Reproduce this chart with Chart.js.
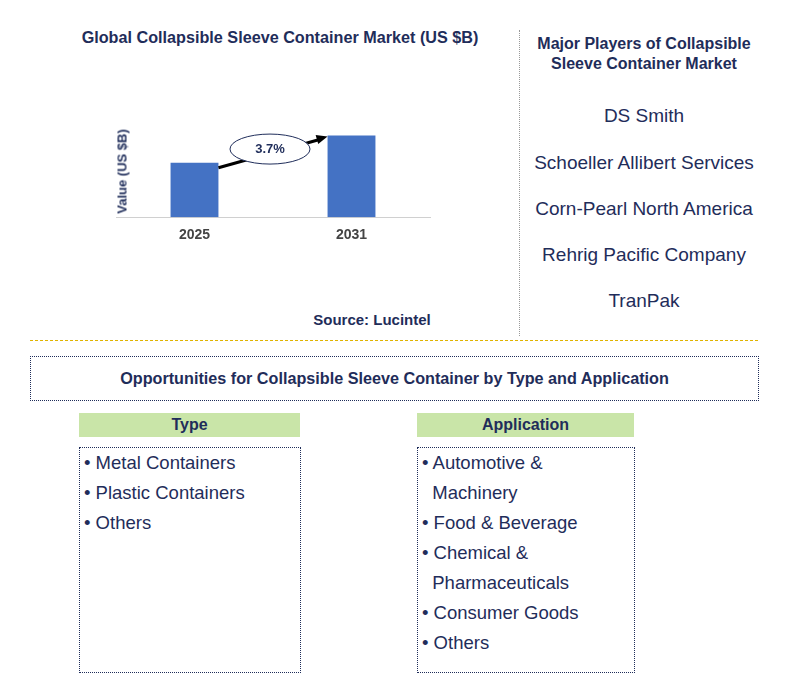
<!DOCTYPE html>
<html><head><meta charset="utf-8">
<script src="https://cdn.jsdelivr.net/npm/chart.js"></script>
<style>
body{margin:0;width:785px;height:683px;background:#fff;font-family:Arial,"Liberation Sans",sans-serif;position:relative;overflow:hidden;color:#1f2d5a}
.a{position:absolute}
.t{font-weight:bold;font-size:15px;text-align:center}
.pl{font-size:19px;text-align:center;width:260px;left:514px;color:#1f2d5a}
.hd{background:#c9e5a8;font-weight:bold;font-size:16px;text-align:center;line-height:24px;height:24px}
.bx{border:1px dotted #1f2d5a;box-sizing:border-box}
.li{font-size:18.5px;line-height:30px;padding:0 0 0 4px}
</style></head><body>
<div class="a t" style="left:40px;top:28px;width:480px;font-size:16.2px">Global Collapsible Sleeve Container Market (US $B)</div>
<div class="a" style="left:116px;top:124px;width:320px;height:130px"><canvas id="c"></canvas></div>
<div class="a" style="left:62px;top:164px;width:120px;text-align:center;font-weight:bold;font-size:13px;transform:rotate(-90deg)">Value (US $B)</div>
<div class="a t" style="left:272px;top:311px;width:200px">Source: Lucintel</div>
<div class="a" style="left:519px;top:30px;height:306px;border-left:1px dotted #999"></div>
<div class="a t" style="left:519px;top:34px;width:250px;line-height:20px;font-size:16px">Major Players of Collapsible Sleeve Container Market</div>
<div class="a pl" style="top:105px">DS Smith</div>
<div class="a pl" style="top:152px">Schoeller Allibert Services</div>
<div class="a pl" style="top:198px">Corn-Pearl North America</div>
<div class="a pl" style="top:244px">Rehrig Pacific Company</div>
<div class="a pl" style="top:290px">TranPak</div>
<div class="a" style="left:30px;top:340px;width:728px;border-top:1px dashed #e0b400"></div>
<div class="a bx t" style="left:30px;top:356px;width:729px;height:45px;line-height:43px;font-size:16.2px">Opportunities for Collapsible Sleeve Container by Type and Application</div>
<div class="a hd" style="left:79px;top:413px;width:221px">Type</div>
<div class="a bx li" style="left:79px;top:447px;width:222px;height:226px">• Metal Containers<br>• Plastic Containers<br>• Others</div>
<div class="a hd" style="left:417px;top:413px;width:217px">Application</div>
<div class="a bx li" style="left:417px;top:447px;width:218px;height:226px">• Automotive &amp;<br>&nbsp;&nbsp;Machinery<br>• Food &amp; Beverage<br>• Chemical &amp;<br>&nbsp;&nbsp;Pharmaceuticals<br>• Consumer Goods<br>• Others</div>
<script>
const categories=["2025","2031"];
const values=[2.0,3.0];
const cagr="3.7%";
const ann={id:'ann',afterDatasetsDraw(ch){
 const m=ch.getDatasetMeta(0).data, x=ch.ctx;
 const x1=m[0].x+m[0].width/2, y1=m[0].y+5, x2=m[1].x-m[1].width/2, y2=m[1].y+1;
 x.save();x.strokeStyle='#000';x.lineWidth=3;x.beginPath();x.moveTo(x1,y1);x.lineTo(x2-8,y2+3);x.stroke();
 const ang=Math.atan2(y2-y1,x2-x1);x.fillStyle='#000';x.beginPath();x.moveTo(x2,y2);
 x.lineTo(x2-12*Math.cos(ang-0.4),y2-12*Math.sin(ang-0.4));x.lineTo(x2-12*Math.cos(ang+0.4),y2-12*Math.sin(ang+0.4));x.fill();
 const cx=(x1+x2)/2-3, cy=(y1+y2)/2-3;x.fillStyle='#fff';x.lineWidth=1;x.strokeStyle='#1f2d5a';x.beginPath();x.ellipse(cx,cy,40,15,0,0,Math.PI*2);x.fill();x.stroke();
 x.fillStyle='#1f2d5a';x.font='bold 13px Arial, "Liberation Sans", sans-serif';x.textAlign='center';x.textBaseline='middle';x.fillText(cagr,cx,cy);x.restore();}};
new Chart(document.getElementById('c'),{type:'bar',data:{labels:categories,datasets:[{data:values,backgroundColor:'#4472c4',barPercentage:0.61,categoryPercentage:0.5}]},
options:{responsive:true,maintainAspectRatio:false,animation:false,layout:{padding:{left:0,right:6}},plugins:{legend:{display:false},tooltip:{enabled:false}},
scales:{x:{grid:{display:false,drawTicks:false},border:{color:'#d0d0d0'},ticks:{color:'#444',font:{weight:'bold',size:14},padding:10}},
y:{display:false,min:0,max:3.42}}},plugins:[ann]});
</script>
</body></html>
